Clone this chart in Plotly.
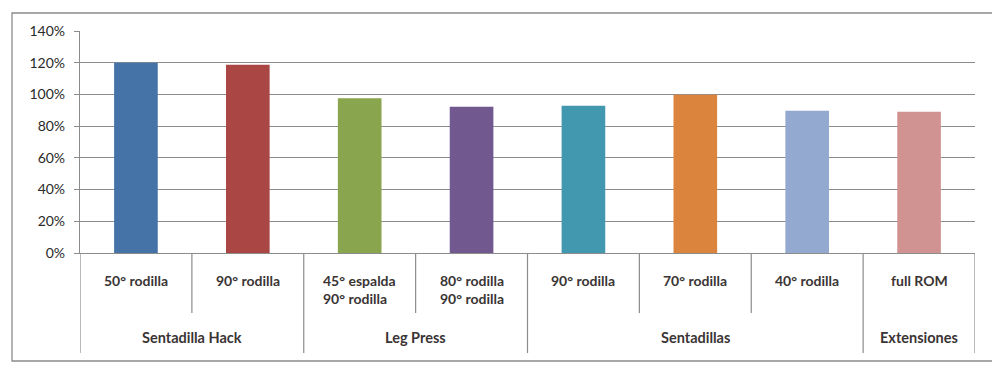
import plotly.graph_objects as go

categories = ["50° rodilla", "90° rodilla", "45° espalda<br>90° rodilla", "80° rodilla<br>90° rodilla",
              "90° rodilla", "70° rodilla", "40° rodilla", "full ROM"]
groups = ["Sentadilla Hack", "Sentadilla Hack", "Leg Press", "Leg Press",
          "Sentadillas", "Sentadillas", "Sentadillas", "Extensiones"]
values = [1.20, 1.187, 0.976, 0.922, 0.929, 0.998, 0.897, 0.89]
colors = ["#4572A7", "#AA4643", "#89A54E", "#71588F", "#4198AF", "#DB843D", "#93A9CF", "#D19392"]
yticks = [0, 0.2, 0.4, 0.6, 0.8, 1.0, 1.2, 1.4]

OFF = 8  # page body margin
W, H = 1000 - OFF, 384 - OFF
L, R, T, B = 80 - OFF, 975 - OFF, 31 - OFF, 253 - OFF  # plot area pixel bounds in figure coords
ph = B - T
pw = R - L

def py(pix):
    return (B - (pix - OFF)) / ph

def px(pix):
    return ((pix - OFF) - L) / pw

xs = list(range(len(categories)))

fig = go.Figure(go.Bar(x=xs, y=values, marker=dict(color=colors, line=dict(width=0)),
                       width=0.39, hoverinfo="skip"))

font_txt = "Lato, 'Open Sans', sans-serif"
label_color = "#3b3434"

shapes = []
annotations = []
# outer border
shapes.append(dict(type="rect", xref="paper", yref="paper", x0=px(12), x1=px(994), y0=py(361), y1=py(13),
                   line=dict(color="#8c8c8c", width=1.3), fillcolor="rgba(0,0,0,0)", layer="below"))

# separator lines
n = len(categories)
for i in range(n + 1):
    xb = i - 0.5
    if i == 0 or i == n or groups[i - 1] != groups[i]:
        y1 = py(353)
    else:
        y1 = py(313)
    shapes.append(dict(type="line", xref="x", yref="paper", x0=xb, x1=xb, y0=0, y1=y1,
                       line=dict(color="#8c8c8c", width=1.2)))

# category labels
for i, c in enumerate(categories):
    annotations.append(dict(x=i, y=py(270), xref="x", yref="paper", text="<b>%s</b>" % c,
                            showarrow=False, yanchor="top", xanchor="center", align="left",
                            font=dict(family=font_txt, size=14, color=label_color)))

# group labels
seen = []
for g in groups:
    if g not in seen:
        seen.append(g)
for g in seen:
    idx = [i for i, gg in enumerate(groups) if gg == g]
    xc = (idx[0] + idx[-1]) / 2
    annotations.append(dict(x=xc, y=py(338), xref="x", yref="paper", text="<b>%s</b>" % g,
                            showarrow=False, yanchor="middle", xanchor="center",
                            font=dict(family=font_txt, size=14.5, color=label_color)))

fig.update_layout(
    width=W, height=H,
    margin=dict(l=L, r=W - R, t=T, b=H - B, pad=0),
    paper_bgcolor="white", plot_bgcolor="white",
    showlegend=False,
    bargap=0.61,
    xaxis=dict(range=[-0.5, n - 0.5], showticklabels=False, showgrid=False, zeroline=False,
               showline=True, linecolor="#8c8c8c", linewidth=1.2, ticks="", fixedrange=True),
    yaxis=dict(range=[0, 1.4], tickvals=yticks, tickformat=".0%", showgrid=True, gridcolor="#8c8c8c",
               gridwidth=1.2, zeroline=False, showline=True, linecolor="#8c8c8c", linewidth=1.2,
               ticks="outside", ticklen=5, tickcolor="#8c8c8c", tickwidth=1.2, ticklabelstandoff=6,
               tickfont=dict(family=font_txt, size=14, color="#2a2a2a"), fixedrange=True),
    shapes=shapes,
    annotations=annotations,
)

fig.write_html("out.html")
